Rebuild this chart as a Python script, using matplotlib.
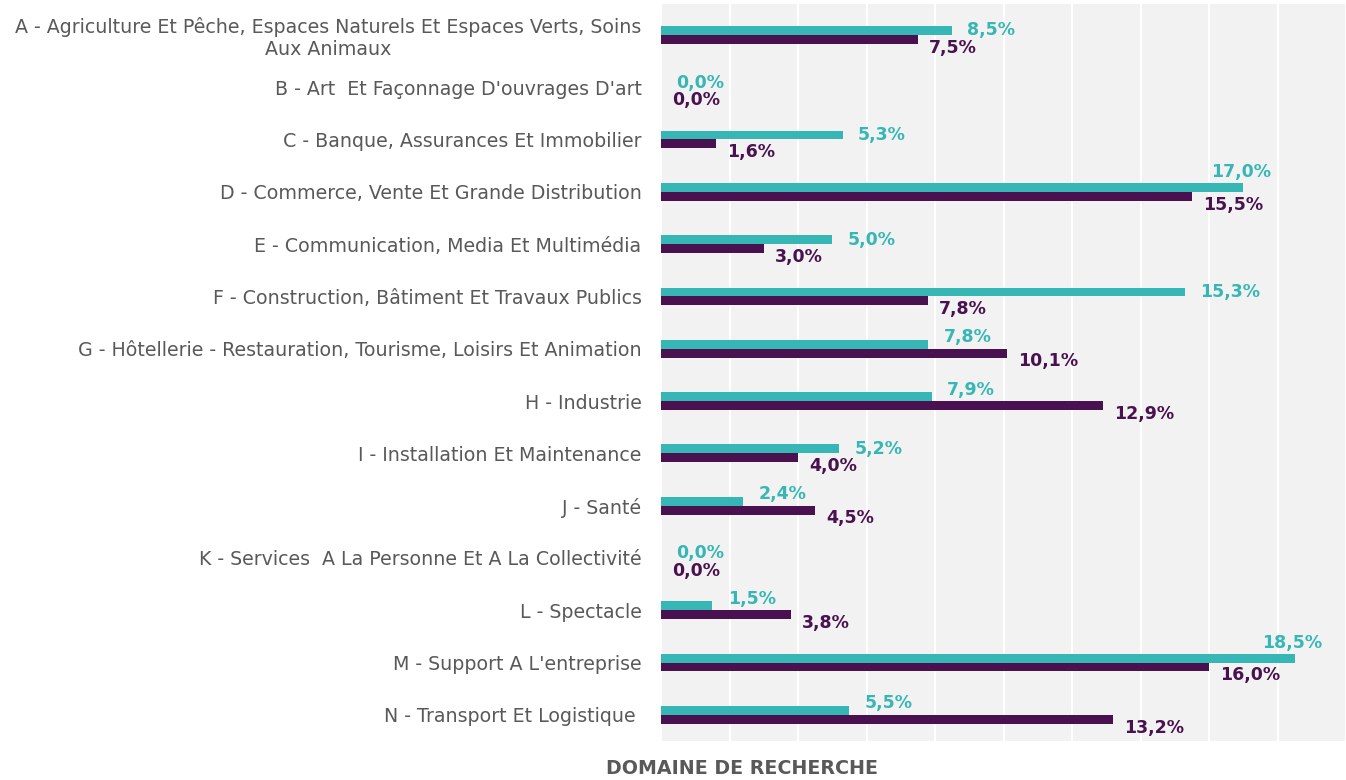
import matplotlib.pyplot as plt

categories = [
    "A - Agriculture Et Pêche, Espaces Naturels Et Espaces Verts, Soins\nAux Animaux",
    "B - Art  Et Façonnage D'ouvrages D'art",
    "C - Banque, Assurances Et Immobilier",
    "D - Commerce, Vente Et Grande Distribution",
    "E - Communication, Media Et Multimédia",
    "F - Construction, Bâtiment Et Travaux Publics",
    "G - Hôtellerie - Restauration, Tourisme, Loisirs Et Animation",
    "H - Industrie",
    "I - Installation Et Maintenance",
    "J - Santé",
    "K - Services  A La Personne Et A La Collectivité",
    "L - Spectacle",
    "M - Support A L'entreprise",
    "N - Transport Et Logistique ",
]
teal_vals = [8.5, 0.0, 5.3, 17.0, 5.0, 15.3, 7.8, 7.9, 5.2, 2.4, 0.0, 1.5, 18.5, 5.5]
purple_vals = [7.5, 0.0, 1.6, 15.5, 3.0, 7.8, 10.1, 12.9, 4.0, 4.5, 0.0, 3.8, 16.0, 13.2]

TEAL = "#36b7b5"
PURPLE = "#4a1150"
GREY = "#595959"

fig = plt.figure(figsize=(13.46, 7.8), dpi=100)
ax = fig.add_axes([661 / 1346, 39 / 780, 685 / 1346, 737 / 780])
ax.set_facecolor("#f2f2f2")

h = 0.17
ys = list(range(len(categories)))
ax.barh([y - h / 2 for y in ys], teal_vals, height=h, color=TEAL, zorder=3)
ax.barh([y + h / 2 for y in ys], purple_vals, height=h, color=PURPLE, zorder=3)

def fmt(v):
    return f"{v:.1f}%".replace(".", ",")

for y, tv, pv in zip(ys, teal_vals, purple_vals):
    if tv > 16.5:
        # no room on the right: put it above the bar end
        ax.annotate(fmt(tv), (tv, y - h / 2), xytext=(20, 11), textcoords="offset points",
                    va="center", ha="left" if False else "right", color=TEAL,
                    fontsize=12.5, fontweight="bold")
    else:
        dy = 5 if pv > tv else 0
        ax.annotate(fmt(tv), (tv, y - h / 2), xytext=(11, dy), textcoords="offset points",
                    va="center", ha="left", color=TEAL, fontsize=12.5, fontweight="bold")
    ax.annotate(fmt(pv), (pv, y + h / 2), xytext=(8, -6), textcoords="offset points",
                va="center", ha="left", color=PURPLE, fontsize=12.5, fontweight="bold")

ax.set_xlim(0, 20)
ax.set_ylim(13.5, -0.59)
ax.set_xticks(range(0, 21, 2))
ax.set_xticklabels([])
ax.grid(axis="x", color="white", linewidth=1.5, zorder=0)
ax.set_yticks(ys)
ax.set_yticklabels(categories, fontsize=13.7, color=GREY, multialignment="center")
ax.tick_params(axis="both", length=0, pad=14)
for s in ax.spines.values():
    s.set_visible(False)

fig.text(742 / 1346, 12 / 780, "DOMAINE DE RECHERCHE", ha="center", va="center",
         fontsize=13.7, fontweight="bold", color=GREY)

fig.savefig("out.png", dpi=100)
